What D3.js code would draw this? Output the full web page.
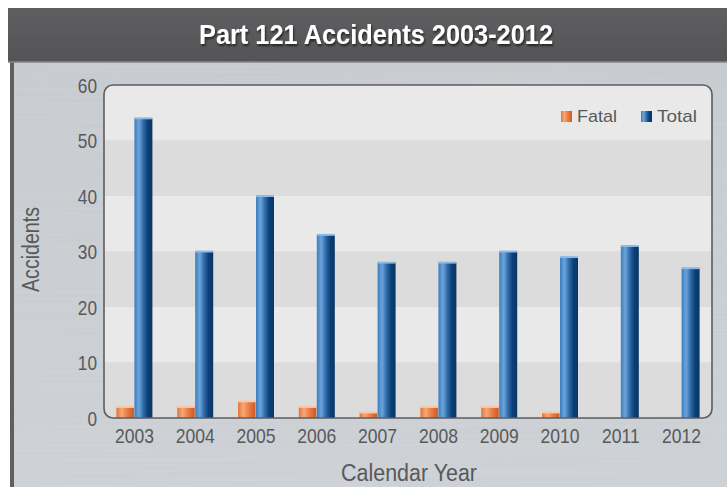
<!DOCTYPE html>
<html>
<head>
<meta charset="utf-8">
<script src="https://cdn.jsdelivr.net/npm/d3@7"></script>
<style>
  html, body { margin: 0; padding: 0; background: #ffffff; }
  svg { display: block; }
</style>
</head>
<body>
<script>
// Part 121 accidents by calendar year
const years = ["2003","2004","2005","2006","2007","2008","2009","2010","2011","2012"];
const fatal = [2, 2, 3, 2, 1, 2, 2, 1, 0, 0];
const total = [54, 30, 40, 33, 28, 28, 30, 29, 31, 27];
const yTicks = [0, 10, 20, 30, 40, 50, 60];
const seriesNames = ["Fatal", "Total"];

const W = 727, H = 487;
const font = "'Liberation Sans', Arial, sans-serif";
const textGrey = "#58595b";

// squeeze text horizontally to mimic a condensed face
function condense(sel, factor) {
  sel.each(function () {
    const len = this.getComputedTextLength();
    d3.select(this).attr("textLength", len * factor).attr("lengthAdjust", "spacingAndGlyphs");
  });
}

const svg = d3.select("body").append("svg")
  .attr("width", W).attr("height", H);

const defs = svg.append("defs");

// brushed-metal panel
const panelGrad = defs.append("linearGradient").attr("id", "panelGrad")
  .attr("x1", 0).attr("y1", 0).attr("x2", 0).attr("y2", 1);
panelGrad.append("stop").attr("offset", "0%").attr("stop-color", "#c5c9cd");
panelGrad.append("stop").attr("offset", "100%").attr("stop-color", "#cbcfd3");

const brush = defs.append("filter").attr("id", "brushed")
  .attr("x", 0).attr("y", 0).attr("width", 1).attr("height", 1);
brush.append("feTurbulence").attr("type", "fractalNoise")
  .attr("baseFrequency", "0.003 0.5").attr("numOctaves", 2).attr("seed", 3).attr("result", "n");
brush.append("feColorMatrix").attr("in", "n").attr("type", "matrix")
  .attr("values", "0 0 0 0 1  0 0 0 0 1  0 0 0 0 1  0 0 0 0.12 0");

const titleGrad = defs.append("linearGradient").attr("id", "titleGrad")
  .attr("x1", 0).attr("y1", 0).attr("x2", 0).attr("y2", 1);
titleGrad.append("stop").attr("offset", "0%").attr("stop-color", "#5f5f61");
titleGrad.append("stop").attr("offset", "100%").attr("stop-color", "#545456");

const shadow = defs.append("filter").attr("id", "txtShadow")
  .attr("x", "-10%").attr("y", "-20%").attr("width", "120%").attr("height", "160%");
shadow.append("feDropShadow").attr("dx", 1).attr("dy", 2).attr("stdDeviation", 1.2)
  .attr("flood-color", "#000").attr("flood-opacity", 0.6);

// bar gradients
const blueGrad = defs.append("linearGradient").attr("id", "blueGrad")
  .attr("x1", 0).attr("y1", 0).attr("x2", 1).attr("y2", 0);
[["0%", "#3d7cbf"], ["25%", "#6aa6dc"], ["50%", "#2f6aa8"], ["75%", "#0c3f78"], ["100%", "#0a3566"]]
  .forEach(([o, c]) => blueGrad.append("stop").attr("offset", o).attr("stop-color", c));

const orangeGrad = defs.append("linearGradient").attr("id", "orangeGrad")
  .attr("x1", 0).attr("y1", 0).attr("x2", 1).attr("y2", 0);
[["0%", "#e0763a"], ["30%", "#f6a877"], ["65%", "#e8793f"], ["100%", "#c95a22"]]
  .forEach(([o, c]) => orangeGrad.append("stop").attr("offset", o).attr("stop-color", c));

// background panel
svg.append("rect").attr("x", 10).attr("y", 62).attr("width", W - 10).attr("height", H - 62)
  .attr("fill", "url(#panelGrad)");
svg.append("rect").attr("x", 10).attr("y", 62).attr("width", W - 10).attr("height", H - 62)
  .attr("filter", "url(#brushed)");
svg.append("rect").attr("x", 10).attr("y", 62).attr("width", 4).attr("height", H - 62)
  .attr("fill", "#5e5f61");

// title bar
svg.append("rect").attr("x", 8).attr("y", 8).attr("width", W - 8).attr("height", 54)
  .attr("fill", "url(#titleGrad)");
svg.append("line").attr("x1", 8).attr("x2", W).attr("y1", 62).attr("y2", 62)
  .attr("stroke", "#85878a").attr("stroke-width", 1.5);
svg.append("text").attr("x", 376).attr("y", 44)
  .attr("text-anchor", "middle").attr("fill", "#ffffff")
  .attr("font-family", font).attr("font-weight", "bold").attr("font-size", 27.5)
  .attr("textLength", 354).attr("lengthAdjust", "spacingAndGlyphs")
  .attr("filter", "url(#txtShadow)")
  .text("Part 121 Accidents 2003-2012");

// plot area
const m = { left: 104, right: 712, top: 85, bottom: 418 };
const x = d3.scaleBand().domain(years).range([m.left, m.right]).paddingInner(0).paddingOuter(0);
const y = d3.scaleLinear().domain([0, 60]).range([m.bottom, m.top]);
const sub = d3.scaleBand().domain(seriesNames).range([0, 36]);

const clip = defs.append("clipPath").attr("id", "plotClip");
clip.append("rect").attr("x", m.left).attr("y", m.top)
  .attr("width", m.right - m.left).attr("height", m.bottom - m.top).attr("rx", 9);

const plot = svg.append("g").attr("clip-path", "url(#plotClip)");
// alternating horizontal bands
d3.range(0, 60, 10).forEach((v, i) => {
  plot.append("rect").attr("x", m.left).attr("width", m.right - m.left)
    .attr("y", y(v + 10)).attr("height", y(v) - y(v + 10))
    .attr("fill", i % 2 === 0 ? "#dcdcdc" : "#e9e9e9");
});

// bars
const offset = (x.bandwidth() - sub.range()[1]) / 2;
const groups = plot.selectAll("g.yr").data(years).join("g")
  .attr("transform", d => `translate(${x(d) + offset},0)`);

groups.append("rect")
  .attr("x", sub("Fatal")).attr("width", sub.bandwidth() - 0.5)
  .attr("y", (d, i) => y(fatal[i])).attr("height", (d, i) => y(0) - y(fatal[i]))
  .attr("fill", "url(#orangeGrad)");
groups.filter((d, i) => fatal[i] > 0).append("rect")
  .attr("x", sub("Fatal")).attr("width", sub.bandwidth() - 0.5)
  .attr("y", d => y(fatal[years.indexOf(d)]) - 1).attr("height", 2)
  .attr("fill", "#f9c8a6");

groups.append("rect")
  .attr("x", sub("Total")).attr("width", sub.bandwidth())
  .attr("y", (d, i) => y(total[i])).attr("height", (d, i) => y(0) - y(total[i]))
  .attr("fill", "url(#blueGrad)");
groups.append("rect")
  .attr("x", sub("Total")).attr("width", sub.bandwidth())
  .attr("y", (d, i) => y(total[i]) - 1).attr("height", 2)
  .attr("fill", "#8fbbe3");

// frame
svg.append("rect").attr("x", m.left).attr("y", m.top)
  .attr("width", m.right - m.left).attr("height", m.bottom - m.top).attr("rx", 9)
  .attr("fill", "none").attr("stroke", "#5b5d60").attr("stroke-width", 1.6);

// axes
const yAxis = svg.append("g").attr("transform", `translate(${m.left - 7},0)`)
  .call(d3.axisLeft(y).tickValues(yTicks).tickSize(0).tickPadding(0));
yAxis.select(".domain").remove();
yAxis.selectAll("text").attr("font-family", font).attr("font-size", 21)
  .attr("fill", textGrey).attr("dy", "0.35em").call(condense, 0.82);

const xAxis = svg.append("g").attr("transform", `translate(0,${m.bottom})`)
  .call(d3.axisBottom(x).tickSize(0).tickPadding(0));
xAxis.select(".domain").remove();
xAxis.selectAll("text").attr("font-family", font).attr("font-size", 21)
  .attr("fill", textGrey).attr("dy", null).attr("y", 25).call(condense, 0.835);

// axis titles
svg.append("text").attr("transform", "translate(39,249.5) rotate(-90)")
  .attr("text-anchor", "middle").attr("font-family", font).attr("font-size", 23)
  .attr("textLength", 85).attr("lengthAdjust", "spacingAndGlyphs")
  .attr("fill", textGrey).text("Accidents");
svg.append("text").attr("x", 409).attr("y", 481)
  .attr("text-anchor", "middle").attr("font-family", font).attr("font-size", 23.5)
  .attr("textLength", 136).attr("lengthAdjust", "spacingAndGlyphs")
  .attr("fill", textGrey).text("Calendar Year");

// legend
const legend = svg.append("g");
const legendItems = [
  { name: "Fatal", fill: "url(#orangeGrad)", x: 561 },
  { name: "Total", fill: "url(#blueGrad)", x: 641 }
];
legendItems.forEach(it => {
  legend.append("rect").attr("x", it.x).attr("y", 111).attr("width", 11).attr("height", 11)
    .attr("fill", it.fill);
  legend.append("text").attr("x", it.x + 16).attr("y", 122)
    .attr("font-family", font).attr("font-size", 17).attr("fill", textGrey)
    .attr("textLength", 40).attr("lengthAdjust", "spacingAndGlyphs")
    .text(it.name);
});
</script>
</body>
</html>
